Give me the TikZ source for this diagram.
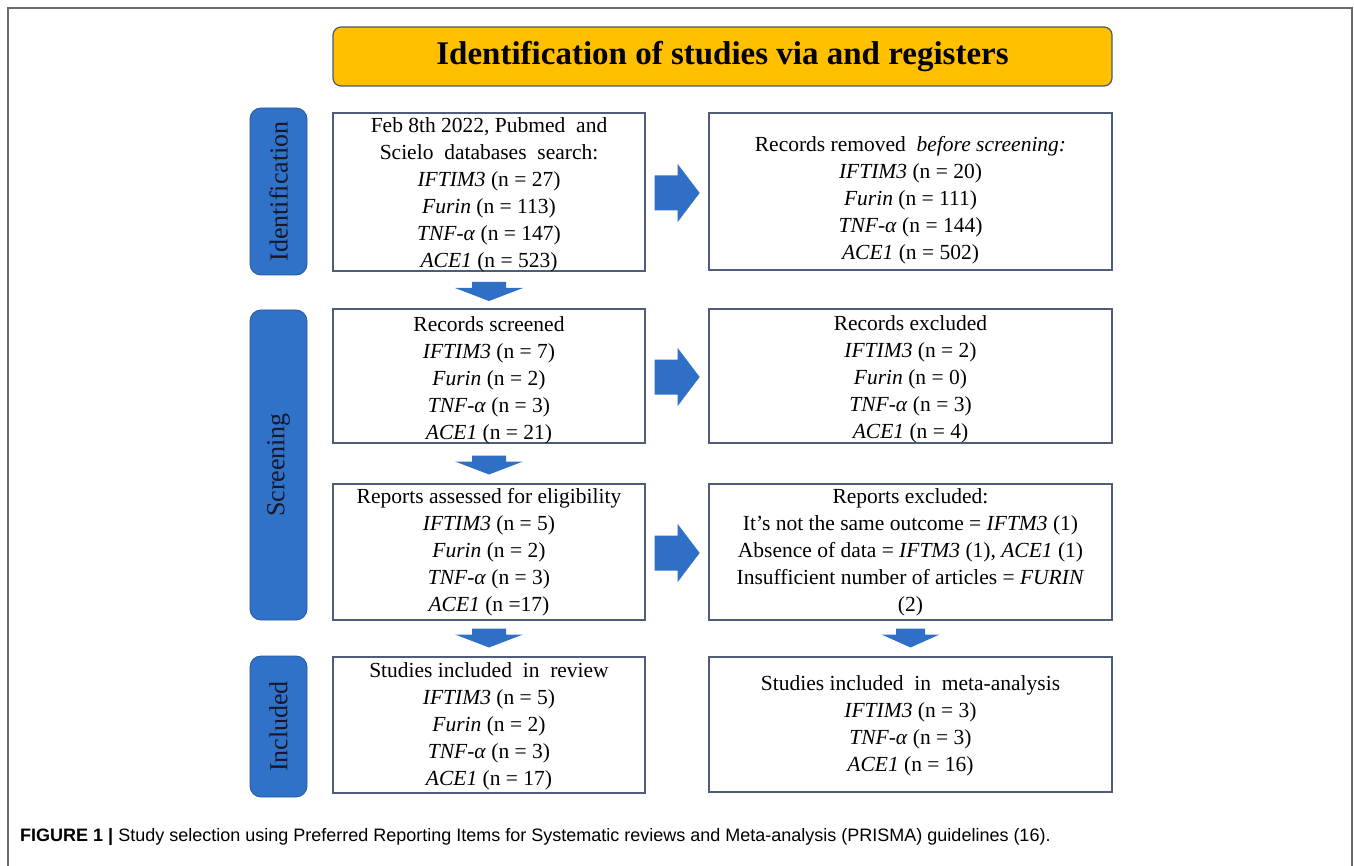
\documentclass[tikz,border=0pt]{standalone}
\usepackage{fontspec}
\setmainfont{Liberation Serif}
\newfontfamily\capfont{Liberation Sans}
\usetikzlibrary{calc}
\definecolor{boxline}{HTML}{4F5D7A}
\definecolor{barblue}{HTML}{3072C8}
\definecolor{barline}{HTML}{2456A0}
\definecolor{arrowblue}{HTML}{2F6FC6}
\definecolor{titleyellow}{HTML}{FFC000}
\definecolor{titleline}{HTML}{4E586C}
\definecolor{framegray}{HTML}{6A6A6A}
\definecolor{bartextcol}{HTML}{16182A}
\tikzset{
  box/.style={draw=boxline, line width=1.3pt, fill=white, inner sep=0pt},
  bar/.style={draw=barline, fill=barblue, rounded corners=11pt, line width=0.8pt,
    rotate=90, text=bartextcol, font=\fontsize{26}{30}\selectfont, inner sep=0pt},
  txt/.style={align=center, font=\fontsize{21.5}{27}\selectfont, inner sep=0pt},
  titlebox/.style={draw=titleline, fill=titleyellow, rounded corners=8pt, line width=1.2pt,
    font=\bfseries\fontsize{33}{36}\selectfont, inner sep=0pt},
  blockarrow/.style={fill=arrowblue, draw=none},
}
\newcommand\rightblock[2]{% #1 start (left middle), #2 tip
  \fill[blockarrow] (#1) ++(0,-17.5) -- ++(23,0) -- ++(0,-11.5) -- (#2)
    -- ++(-22,29) -- ++(0,-11.5) -- ++(-23,0) -- cycle;}
\newcommand\downblock[3]{% #1 top centre, #2 tip, #3 half width of head
  \fill[blockarrow] (#1) ++(-#3/2,0) -- ++(0,6) -- ++(-#3/2,0) -- (#2)
    -- ++(#3,-13) -- ++(-#3/2,0) -- ++(0,-6) -- cycle;}
\begin{document}
\begin{tikzpicture}[x=1pt, y=-1pt]
\useasboundingbox (0,0) rectangle (1354,866);
% frame
\draw[framegray, line width=1.6pt] (8,866) -- (8,8) -- (1352,8) -- (1352,866);
% title
\node[titlebox, minimum width=779pt, minimum height=59pt] (title) at (722.5,56.5)
  {Identification of studies via and registers};
% side bars
\node[bar, minimum width=167pt, minimum height=57pt] (s1) at (278.5,191.5) {Identification};
\node[bar, minimum width=310pt, minimum height=57pt] (s2) at (278.5,465) {Screening};
\node[bar, minimum width=141pt, minimum height=57pt] (s3) at (278.5,726.5) {Included};
% boxes
\node[box, minimum width=312pt, minimum height=158pt] (b1) at (489,192) {};
\node[box, minimum width=403pt, minimum height=157pt] (r1) at (910.5,191.5) {};
\node[box, minimum width=312pt, minimum height=134pt] (b2) at (489,376) {};
\node[box, minimum width=403pt, minimum height=134pt] (r2) at (910.5,376) {};
\node[box, minimum width=312pt, minimum height=136pt] (b3) at (489,552) {};
\node[box, minimum width=403pt, minimum height=136pt] (r3) at (910.5,552) {};
\node[box, minimum width=312pt, minimum height=136pt] (b4) at (489,725) {};
\node[box, minimum width=403pt, minimum height=135pt] (r4) at (910.5,724.5) {};
% texts
\node[txt] (t1) at ($(b1.center)+(0,3)$) {Feb 8th 2022, Pubmed \ and\\ Scielo \ databases \ search:\\
  \textit{IFTIM3} (n = 27)\\ \textit{Furin} (n = 113)\\ \textit{TNF-α} (n = 147)\\ \textit{ACE1} (n = 523)};
\node[txt] (tr1) at ($(r1.center)+(0,9)$) {Records removed \ \textit{before screening:}\\
  \textit{IFTIM3} (n = 20)\\ \textit{Furin} (n = 111)\\ \textit{TNF-α} (n = 144)\\ \textit{ACE1} (n = 502)};
\node[txt] (t2) at ($(b2.center)+(0,4)$) {Records screened\\
  \textit{IFTIM3} (n = 7)\\ \textit{Furin} (n = 2)\\ \textit{TNF-α} (n = 3)\\ \textit{ACE1} (n = 21)};
\node[txt] (tr2) at ($(r2.center)+(0,3)$) {Records excluded\\
  \textit{IFTIM3} (n = 2)\\ \textit{Furin} (n = 0)\\ \textit{TNF-α} (n = 3)\\ \textit{ACE1} (n = 4)};
\node[txt] (t3) at (b3.center) {Reports assessed for eligibility\\
  \textit{IFTIM3} (n = 5)\\ \textit{Furin} (n = 2)\\ \textit{TNF-α} (n = 3)\\ \textit{ACE1} (n =17)};
\node[txt] (tr3) at (r3.center) {Reports excluded:\\
  It's not the same outcome = \textit{IFTM3} (1)\\
  Absence of data = \textit{IFTM3} (1), \textit{ACE1} (1)\\
  Insufficient number of articles = \textit{FURIN}\\ (2)};
\node[txt] (t4) at ($(b4.center)+(0,1)$) {Studies included \ in \ review\\
  \textit{IFTIM3} (n = 5)\\ \textit{Furin} (n = 2)\\ \textit{TNF-α} (n = 3)\\ \textit{ACE1} (n = 17)};
\node[txt] (tr4) at ($(r4.center)+(0,1.5)$) {Studies included \ in \ meta-analysis\\
  \textit{IFTIM3} (n = 3)\\ \textit{TNF-α} (n = 3)\\ \textit{ACE1} (n = 16)};
% right block arrows
\coordinate (a1s) at ($(b1.east)+(9,1)$);  \coordinate (a1e) at ($(a1s)+(45,0)$);
\coordinate (a2s) at ($(b2.east)+(9,1)$);  \coordinate (a2e) at ($(a2s)+(45,0)$);
\coordinate (a3s) at ($(b3.east)+(9,1)$);  \coordinate (a3e) at ($(a3s)+(45,0)$);
\rightblock{a1s}{a1e}
\rightblock{a2s}{a2e}
\rightblock{a3s}{a3e}
% down block arrows
\coordinate (d1s) at ($($(b1.south)!0.5!(b2.north)$)+(0,-8)$); \coordinate (d1e) at ($(d1s)+(0,19)$);
\coordinate (d2s) at ($($(b2.south)!0.5!(b3.north)$)+(0,-8)$); \coordinate (d2e) at ($(d2s)+(0,19)$);
\coordinate (d3s) at ($($(b3.south)!0.5!(b4.north)$)+(0,-10)$); \coordinate (d3e) at ($(d3s)+(0,19)$);
\coordinate (d4s) at ($($(r3.south)!0.5!(r4.north)$)+(0,-10)$); \coordinate (d4e) at ($(d4s)+(0,19)$);
\downblock{d1s}{d1e}{34}
\downblock{d2s}{d2e}{34}
\downblock{d3s}{d3e}{34}
\downblock{d4s}{d4e}{29}
% caption
\node[anchor=west, inner sep=0pt, font=\capfont\fontsize{18}{21}\selectfont] (cap) at (20,837)
  {\textbf{FIGURE 1 |} Study selection using Preferred Reporting Items for Systematic reviews and Meta-analysis (PRISMA) guidelines (16).};
\end{tikzpicture}
\end{document}
